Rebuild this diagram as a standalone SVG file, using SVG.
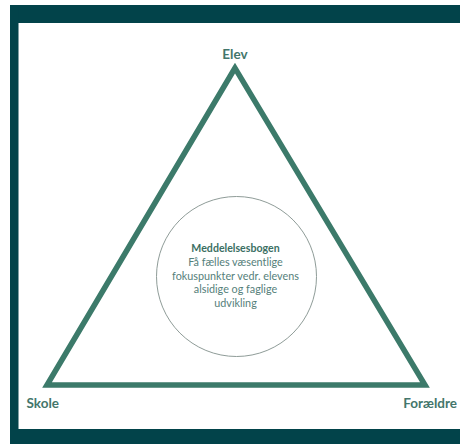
<svg xmlns="http://www.w3.org/2000/svg" width="460" height="444" viewBox="0 0 460 444">
<style>
.lbl{font-family:Lato,"Liberation Sans",sans-serif;font-weight:bold;font-size:13.5px;fill:#43766b}
.t{font-family:Lato,"Liberation Sans",sans-serif;font-size:10.8px;fill:#55807a;text-anchor:middle}
.tb{font-weight:bold;font-size:10.6px;fill:#3b6f63}
</style>
<rect x="0" y="0" width="460" height="444" fill="#ffffff"/>
<g id="frame">
<rect x="10" y="5" width="450" height="18" fill="#02434a"/>
<rect x="10" y="5" width="8.5" height="439" fill="#02434a"/>
<rect x="10" y="429" width="450" height="15" fill="#02434a"/>
</g>
<g id="connectors">
<polygon points="235,68 47,385 425,385" fill="none" stroke="#3c7a6a" stroke-width="5.5" stroke-linejoin="miter"/>
</g>
<g id="elev"><text class="lbl" x="235" y="59" text-anchor="middle">Elev</text></g>
<g id="skole"><text class="lbl" x="26.5" y="408">Skole</text></g>
<g id="foraeldre"><text class="lbl" x="457" y="408" text-anchor="end">Forældre</text></g>
<g id="meddelelsesbogen">
<circle cx="236.5" cy="276.5" r="80" fill="none" stroke="#8f9c98" stroke-width="1"/>
<text class="t tb" x="235.5" y="252">Meddelelsesbogen</text>
<text class="t" x="235.5" y="266">Få fælles væsentlige</text>
<text class="t" x="235.5" y="279.5">fokuspunkter vedr. elevens</text>
<text class="t" x="235.5" y="293">alsidige og faglige</text>
<text class="t" x="235.5" y="306.5">udvikling</text>
</g>
</svg>
